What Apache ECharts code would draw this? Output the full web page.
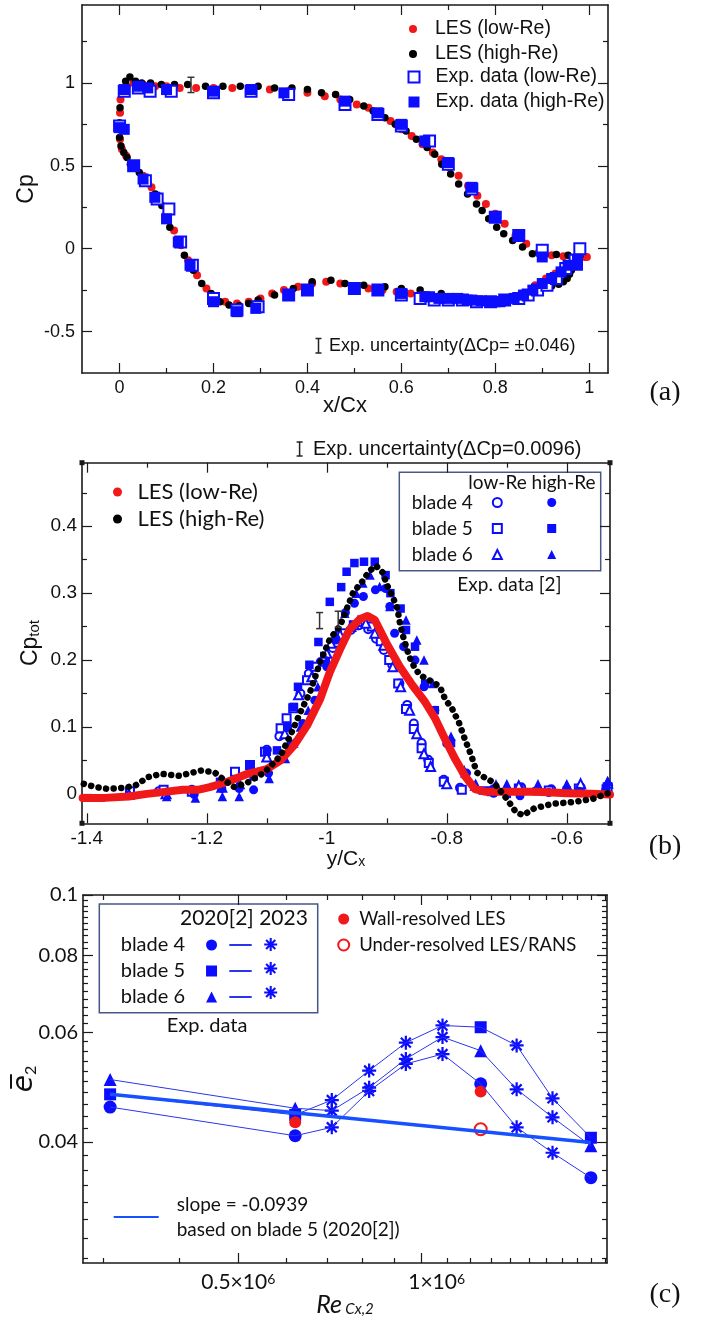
<!DOCTYPE html>
<html>
<head>
<meta charset="utf-8">
<script src="https://cdn.jsdelivr.net/npm/echarts@6/dist/echarts.min.js"></script>
<style>
  html, body { margin: 0; padding: 0; background: #fff; }
  #wrap { position: relative; width: 704px; height: 1323px; }
  .panel { position: absolute; left: 0; width: 704px; }
</style>
</head>
<body>
<div id="wrap">
  <div id="chartA" class="panel" style="top:0;height:422px"></div>
  <div id="chartB" class="panel" style="top:422px;height:456px"></div>
  <div id="chartC" class="panel" style="top:878px;height:445px"></div>
</div>
<script>
// ---------- (a) blade surface Cp, [x/Cx, Cp] ----------
const cpLesLow = [
  [0.995,-0.05],[0.97,-0.05],[0.945,-0.045],[0.92,-0.04],[0.893,-0.02],[0.866,0.03],[0.843,0.08],[0.82,0.15],
  [0.80,0.21],[0.78,0.27],[0.762,0.32],[0.742,0.38],[0.722,0.44],[0.703,0.49],[0.685,0.54],[0.667,0.58],
  [0.645,0.63],[0.622,0.68],[0.60,0.72],[0.577,0.77],[0.553,0.81],[0.53,0.85],[0.505,0.87],[0.47,0.9],
  [0.437,0.92],[0.40,0.94],[0.36,0.95],[0.32,0.96],[0.28,0.97],[0.24,0.97],[0.2,0.97],[0.163,0.97],
  [0.128,0.97],[0.1,0.98],[0.076,0.98],[0.05,0.99],[0.03,1.0],[0.015,0.98],[0.006,0.94],[0.002,0.9],
  [0.001,0.82],[0.0,0.74],
  [0.001,0.66],[0.005,0.6],[0.014,0.56],[0.03,0.5],[0.05,0.44],[0.068,0.37],[0.084,0.3],[0.1,0.21],
  [0.116,0.11],[0.131,0.02],[0.146,-0.07],[0.165,-0.16],[0.185,-0.24],[0.205,-0.29],[0.225,-0.32],[0.25,-0.33],
  [0.275,-0.32],[0.3,-0.3],[0.325,-0.27],[0.35,-0.25],[0.38,-0.23],[0.41,-0.21],[0.44,-0.2],[0.47,-0.21],
  [0.5,-0.23],[0.53,-0.24],[0.56,-0.25],[0.59,-0.26],[0.62,-0.27],[0.65,-0.28],[0.68,-0.29],[0.71,-0.3],
  [0.74,-0.31],[0.77,-0.31],[0.8,-0.31],[0.83,-0.3],[0.86,-0.27],[0.885,-0.22],[0.908,-0.18],[0.928,-0.15],
  [0.945,-0.12],[0.96,-0.09],[0.975,-0.06],[0.99,-0.05]
];
const cpLesHigh = [
  [0.98,-0.045],[0.955,-0.04],[0.93,-0.035],[0.905,-0.035],[0.879,-0.03],[0.858,0.01],[0.837,0.05],[0.818,0.09],
  [0.803,0.13],[0.786,0.18],[0.772,0.23],[0.76,0.27],[0.741,0.33],[0.722,0.39],[0.705,0.45],[0.686,0.51],
  [0.671,0.57],[0.655,0.61],[0.632,0.66],[0.61,0.71],[0.587,0.75],[0.565,0.79],[0.54,0.83],[0.52,0.86],
  [0.49,0.9],[0.46,0.93],[0.43,0.94],[0.4,0.96],[0.367,0.97],[0.33,0.97],[0.295,0.98],[0.257,0.98],
  [0.22,0.98],[0.183,0.98],[0.145,0.99],[0.117,0.99],[0.089,0.99],[0.066,1.0],[0.047,1.0],[0.034,1.01],
  [0.022,1.035],[0.013,1.01],[0.006,0.96],[0.001,0.85],[0.0,0.76],
  [0.0,0.67],[0.003,0.62],[0.009,0.58],[0.016,0.55],[0.023,0.51],[0.042,0.46],[0.06,0.4],[0.076,0.33],
  [0.09,0.26],[0.099,0.2],[0.107,0.13],[0.124,0.05],[0.138,-0.04],[0.157,-0.13],[0.175,-0.21],[0.195,-0.27],
  [0.214,-0.32],[0.233,-0.34],[0.255,-0.345],[0.275,-0.33],[0.295,-0.31],[0.33,-0.28],[0.37,-0.24],[0.41,-0.2],
  [0.45,-0.19],[0.48,-0.21],[0.52,-0.22],[0.565,-0.23],[0.6,-0.24],[0.64,-0.25],[0.685,-0.27],[0.74,-0.3],
  [0.785,-0.31],[0.83,-0.3],[0.86,-0.28],[0.88,-0.26],[0.9,-0.235],[0.92,-0.225],[0.935,-0.215],[0.945,-0.2],
  [0.953,-0.18],[0.958,-0.155],[0.962,-0.13],[0.965,-0.1],[0.967,-0.075]
];
const cpExpLow = [
  [0.01,0.95],[0.04,0.97],[0.065,0.95],[0.11,0.95],[0.2,0.94],[0.28,0.95],[0.36,0.93],[0.48,0.87],
  [0.55,0.81],[0.6,0.74],[0.66,0.65],[0.7,0.51],[0.75,0.36],[0.8,0.19],[0.85,0.08],[0.9,-0.01],[0.98,0.0],
  [0.0,0.74],[0.03,0.5],[0.055,0.41],[0.08,0.3],[0.105,0.24],[0.13,0.04],[0.155,-0.1],[0.2,-0.3],
  [0.25,-0.37],[0.295,-0.35],[0.36,-0.28],[0.4,-0.25],[0.5,-0.24],[0.55,-0.25],[0.6,-0.28],[0.64,-0.3],
  [0.67,-0.31],[0.7,-0.31],[0.73,-0.31],[0.76,-0.32],[0.79,-0.32],[0.82,-0.31],[0.85,-0.3],[0.87,-0.28],
  [0.89,-0.25],[0.91,-0.22],[0.93,-0.18],[0.95,-0.12],[0.97,-0.07]
];
const cpExpHigh = [
  [0.01,0.96],[0.04,0.98],[0.06,0.97],[0.1,0.96],[0.2,0.95],[0.28,0.96],[0.35,0.94],[0.48,0.89],
  [0.55,0.82],[0.6,0.75],[0.65,0.65],[0.7,0.52],[0.75,0.37],[0.8,0.19],[0.85,0.08],[0.9,-0.05],[0.975,-0.07],
  [0.0,0.73],[0.01,0.72],[0.03,0.5],[0.05,0.42],[0.075,0.31],[0.1,0.18],[0.125,0.04],[0.15,-0.1],
  [0.2,-0.32],[0.25,-0.38],[0.29,-0.36],[0.36,-0.28],[0.4,-0.25],[0.5,-0.24],[0.55,-0.25],[0.6,-0.27],
  [0.65,-0.29],[0.66,-0.29],[0.68,-0.3],[0.7,-0.3],[0.72,-0.3],[0.74,-0.31],[0.75,-0.31],[0.77,-0.315],
  [0.79,-0.32],[0.8,-0.32],[0.81,-0.32],[0.82,-0.31],[0.84,-0.3],[0.86,-0.28],[0.88,-0.25],[0.9,-0.21],
  [0.92,-0.18],[0.94,-0.14],[0.955,-0.1],[0.975,-0.1]
];
const cpErrBar = [[0.152, 0.988, 0.046]];
const aMajorX = [0, 0.2, 0.4, 0.6, 0.8, 1];
const aMinorX = [0.1, 0.3, 0.5, 0.7, 0.9];
const aMajorY = [-0.5, 0, 0.5, 1];
const aMinorY = [-0.25, 0.25, 0.75, 1.25];

// ---------- (b) wake total pressure loss, [y/Cx, Cp_tot] ----------
const wakeLesLow = [
  [-1.407,-0.006],[-1.37,-0.006],[-1.33,-0.004],[-1.3,0.0],[-1.27,0.003],[-1.24,0.006],[-1.215,0.006],
  [-1.195,0.01],[-1.18,0.014],[-1.16,0.02],[-1.132,0.03],[-1.1,0.037],[-1.077,0.05],[-1.055,0.072],
  [-1.033,0.102],[-1.011,0.142],[-0.995,0.182],[-0.978,0.216],[-0.962,0.246],[-0.945,0.261],[-0.932,0.266],
  [-0.92,0.26],[-0.901,0.226],[-0.879,0.191],[-0.857,0.162],[-0.836,0.137],[-0.819,0.112],[-0.803,0.082],
  [-0.786,0.052],[-0.77,0.027],[-0.753,0.007],[-0.735,0.003],[-0.7,0.003],[-0.65,0.003],[-0.6,0.001],
  [-0.56,0.0],[-0.528,-0.001]
];
const wakeLesHigh = [
  [-1.405,0.015],[-1.385,0.01],[-1.365,0.0075],[-1.34,0.009],[-1.32,0.012],[-1.298,0.025],[-1.276,0.03],
  [-1.246,0.027],[-1.209,0.035],[-1.187,0.032],[-1.17,0.02],[-1.154,0.01],[-1.132,0.017],[-1.104,0.032],
  [-1.077,0.057],[-1.061,0.087],[-1.044,0.122],[-1.028,0.152],[-1.011,0.197],[-0.995,0.231],[-0.978,0.251],
  [-0.967,0.276],[-0.956,0.301],[-0.942,0.316],[-0.929,0.333],[-0.918,0.341],[-0.907,0.331],[-0.899,0.311],
  [-0.89,0.294],[-0.882,0.276],[-0.879,0.259],[-0.874,0.239],[-0.868,0.221],[-0.863,0.206],[-0.855,0.191],
  [-0.846,0.179],[-0.835,0.172],[-0.822,0.167],[-0.811,0.159],[-0.803,0.142],[-0.791,0.127],[-0.78,0.107],
  [-0.77,0.082],[-0.759,0.057],[-0.75,0.032],[-0.738,0.025],[-0.722,0.017],[-0.7,-0.0075],[-0.685,-0.027],
  [-0.673,-0.032],[-0.655,-0.022],[-0.625,-0.015],[-0.587,-0.012],[-0.557,-0.0075],[-0.528,0.002]
];
const blade4Low = [
  [-1.28,0.004],[-1.225,0.006],[-1.152,0.026],[-1.1,0.066],[-1.079,0.086],[-1.066,0.1],[-1.044,0.15],
  [-1.03,0.18],[-1.01,0.197],[-0.99,0.218],[-0.976,0.232],[-0.96,0.245],[-0.946,0.252],[-0.931,0.246],
  [-0.918,0.232],[-0.905,0.215],[-0.891,0.193],[-0.879,0.165],[-0.866,0.133],[-0.855,0.105],[-0.842,0.076],
  [-0.831,0.051],[-0.805,0.021],[-0.778,0.009],[-0.722,0.007],[-0.676,0.01],[-0.626,0.007],[-0.577,0.01],
  [-0.531,0.012]
];
const blade5Low = [
  [-1.328,0.004],[-1.272,0.006],[-1.225,0.003],[-1.153,0.033],[-1.128,0.043],[-1.103,0.063],[-1.077,0.098],
  [-1.067,0.113],[-1.056,0.128],[-1.033,0.17],[-1.02,0.19],[-1.003,0.205],[-0.985,0.226],[-0.97,0.24],
  [-0.955,0.252],[-0.94,0.257],[-0.925,0.25],[-0.91,0.228],[-0.896,0.2],[-0.881,0.165],[-0.868,0.127],
  [-0.855,0.097],[-0.842,0.068],[-0.83,0.046],[-0.805,0.018],[-0.775,0.006],[-0.725,0.004],[-0.68,0.008],
  [-0.63,0.005],[-0.58,0.008],[-0.532,0.01]
];
const blade6Low = [
  [-1.33,-0.001],[-1.268,0.0],[-1.175,0.01],[-1.146,0.015],[-1.1,0.055],[-1.07,0.09],[-1.047,0.148],
  [-1.025,0.175],[-1.0,0.21],[-0.993,0.225],[-0.978,0.238],[-0.96,0.25],[-0.948,0.258],[-0.935,0.255],
  [-0.92,0.24],[-0.905,0.222],[-0.89,0.19],[-0.877,0.16],[-0.862,0.125],[-0.85,0.09],[-0.838,0.06],
  [-0.827,0.041],[-0.8,0.015],[-0.752,0.013],[-0.718,0.012],[-0.68,0.012],[-0.648,0.012],[-0.6,0.012],
  [-0.577,0.015],[-0.532,0.016]
];
const blade4High = [
  [-1.221,-0.001],[-1.175,0.008],[-1.146,0.008],[-1.122,0.006],[-1.097,0.031],[-1.06,0.075],[-1.04,0.105],
  [-1.02,0.14],[-1.0,0.19],[-0.985,0.23],[-0.969,0.271],[-0.954,0.285],[-0.939,0.295],[-0.919,0.305],
  [-0.902,0.307],[-0.895,0.28],[-0.887,0.24],[-0.872,0.22],[-0.853,0.2],[-0.838,0.16],[-0.82,0.125],
  [-0.8,0.075],[-0.767,0.031],[-0.722,0.001],[-0.678,-0.003],[-0.63,0.002],[-0.58,0.004],[-0.535,0.006]
];
const blade5High = [
  [-1.178,0.018],[-1.128,0.043],[-1.122,0.026],[-1.1,0.063],[-1.083,0.065],[-1.066,0.1],[-1.055,0.13],
  [-1.048,0.16],[-1.029,0.193],[-1.014,0.227],[-0.995,0.287],[-0.976,0.309],[-0.967,0.332],[-0.954,0.345],
  [-0.938,0.347],[-0.92,0.347],[-0.902,0.327],[-0.894,0.3],[-0.877,0.277],[-0.868,0.245],[-0.853,0.22],
  [-0.836,0.165],[-0.82,0.125],[-0.793,0.076],[-0.77,0.03],[-0.74,0.005],[-0.7,0.0],[-0.65,0.004],
  [-0.6,0.005],[-0.535,0.008]
];
const blade6High = [
  [-1.328,-0.002],[-1.267,-0.004],[-1.219,-0.006],[-1.174,-0.004],[-1.146,-0.004],[-1.096,0.023],
  [-1.069,0.053],[-1.055,0.076],[-1.044,0.1],[-1.031,0.125],[-1.015,0.16],[-1.0,0.2],[-0.985,0.24],
  [-0.97,0.27],[-0.951,0.3],[-0.94,0.315],[-0.928,0.327],[-0.912,0.31],[-0.895,0.28],[-0.868,0.26],
  [-0.85,0.23],[-0.838,0.2],[-0.823,0.165],[-0.793,0.086],[-0.771,0.036],[-0.752,0.013],[-0.7,0.015],
  [-0.648,0.012],[-0.6,0.014],[-0.532,0.02]
];
const wakeErrBars = [[-1.012, 0.259, 0.012], [-0.981, 0.261, 0.012]];
const bMajorX = [-1.4, -1.2, -1, -0.8, -0.6];
const bMinorX = [-1.3, -1.1, -0.9, -0.7];
const bMajorY = [0, 0.1, 0.2, 0.3, 0.4];
const bMinorY = [0.05, 0.15, 0.25, 0.35, 0.45];

// ---------- (c) e2 vs Re, [Re_Cx,2, e2] ----------
const blade4Old = [[0.308e6,0.0455],[0.62e6,0.0409],[1.25e6,0.0496],[1.896e6,0.035]];
const blade5Old = [[0.308e6,0.0477],[0.62e6,0.0442],[1.25e6,0.0612],[1.896e6,0.0406]];
const blade6Old = [[0.308e6,0.0504],[0.62e6,0.0453],[1.25e6,0.0561],[1.896e6,0.0394]];
const blade4New = [[0.712e6,0.0422],[0.82e6,0.0483],[0.942e6,0.0534],[1.082e6,0.0554],[1.432e6,0.0422],[1.64e6,0.0384]];
const blade5New = [[0.712e6,0.0467],[0.82e6,0.0521],[0.942e6,0.0578],[1.082e6,0.0616],[1.432e6,0.0572],[1.64e6,0.047]];
const blade6New = [[0.712e6,0.0449],[0.82e6,0.0489],[0.942e6,0.0544],[1.082e6,0.059],[1.432e6,0.0486],[1.64e6,0.0438]];
const wallLes = [[0.62e6,0.043],[1.25e6,0.0482]];
const underLes = [[1.25e6,0.0419]];
const slopeFit = [[0.308e6,0.0477],[1.896e6,0.0399]];
const cMajorX = [5e5, 1e6];
const cMinorX = [3e5,4e5,6e5,7e5,8e5,9e5,1.1e6,1.2e6,1.3e6,1.4e6,1.5e6,1.6e6,1.7e6,1.8e6,1.9e6,2e6];
const cMajorY = [0.04, 0.06, 0.08, 0.1];
const cMinorY = [0.026,0.028,0.03,0.032,0.034,0.036,0.038,0.042,0.044,0.046,0.048,0.05,0.052,0.054,0.056,0.058,
  0.062,0.064,0.066,0.068,0.07,0.072,0.074,0.076,0.078,0.082,0.084,0.086,0.088,0.09,0.092,0.094,0.096,0.098];

const SANS = '"Liberation Sans", Arial, sans-serif';
const LATO = 'Lato, sans-serif';
const SERIF = '"Liberation Serif", "Times New Roman", serif';
const INK = '#1a1a1a';
const BLUE = '#0c0cff';
const RED = '#f01818';
const STAR = 'path://M-1,-0.16L1,-0.16L1,0.16L-1,0.16Z M-0.16,-1L0.16,-1L0.16,1L-0.16,1Z ' +
  'M0.820,0.594L0.594,0.820L-0.820,-0.594L-0.594,-0.820Z M0.594,-0.820L0.820,-0.594L-0.594,0.820L-0.820,0.594Z';

// four axes per dimension: labelled major, minor, mirrored major, mirrored minor
function axisSet(sides, range, major, minor, label, extra) {
  function mk(pos, ticks, len, line) {
    return {
      type: range.type || 'value',
      logBase: 10,
      min: range.min,
      max: range.max,
      position: pos,
      splitLine: { show: false },
      axisLine: { show: line, onZero: false, lineStyle: { color: INK, width: 1.6 } },
      axisTick: { show: true, inside: true, length: len, customValues: ticks, lineStyle: { color: INK, width: 1.2 } },
      axisLabel: { show: false }
    };
  }
  const main = Object.assign(mk(sides[0], major, 10, true), extra, { axisLabel: label });
  return [main, mk(sides[0], minor, 5, false), mk(sides[1], major, 10, true), mk(sides[1], minor, 5, false)];
}

function errBar(color) {
  return function (params, api) {
    const x = api.value(0), y = api.value(1), e = api.value(2);
    const hi = api.coord([x, y + e]);
    const lo = api.coord([x, y - e]);
    const st = { stroke: color, lineWidth: 1.5 };
    return {
      type: 'group',
      children: [
        { type: 'line', shape: { x1: hi[0], y1: hi[1], x2: lo[0], y2: lo[1] }, style: st },
        { type: 'line', shape: { x1: hi[0] - 3.5, y1: hi[1], x2: hi[0] + 3.5, y2: hi[1] }, style: st },
        { type: 'line', shape: { x1: lo[0] - 3.5, y1: lo[1], x2: lo[0] + 3.5, y2: lo[1] }, style: st }
      ]
    };
  };
}

function iBar(x, y1, y2) {
  const st = { stroke: '#222', lineWidth: 1.5 };
  return {
    type: 'group', silent: true,
    children: [
      { type: 'line', shape: { x1: x, y1: y1, x2: x, y2: y2 }, style: st },
      { type: 'line', shape: { x1: x - 3, y1: y1, x2: x + 3, y2: y1 }, style: st },
      { type: 'line', shape: { x1: x - 3, y1: y2, x2: x + 3, y2: y2 }, style: st }
    ]
  };
}

function txt(text, x, y, size, family, align) {
  return {
    type: 'text', x: x, y: y, silent: true,
    style: { text: text, fill: '#111', fontSize: size, fontFamily: family,
      align: align || 'left', verticalAlign: 'middle' }
  };
}

function legendText(size, pad) {
  return { fontSize: size, fontFamily: LATO, color: '#111', padding: pad || 0 };
}

// scatter defaults to 0.8 opacity; the reference marks are solid
function solid(color, extra) {
  return Object.assign({ color: color, opacity: 1 }, extra || {});
}

const fmt = v => String(v);

// ================= panel (a) =================
const chartA = echarts.init(document.getElementById('chartA'));
chartA.setOption({
  animation: false,
  grid: { left: 82, top: 5, width: 526, height: 368, outerBoundsMode: 'none' },
  xAxis: axisSet(['bottom', 'top'], { min: -0.08, max: 1.04 }, aMajorX, aMinorX,
    { customValues: aMajorX, formatter: fmt, margin: 6, fontSize: 18, fontFamily: SANS, color: '#111' },
    { name: 'x/Cx', nameLocation: 'middle', nameGap: 22, nameMoveOverlap: false,
      nameTextStyle: { fontSize: 22, fontFamily: SANS, color: '#111' } }),
  yAxis: axisSet(['left', 'right'], { min: -0.75, max: 1.47 }, aMajorY, aMinorY,
    { customValues: aMajorY, formatter: fmt, margin: 7, fontSize: 18, fontFamily: SANS, color: '#111' },
    { name: 'Cp', nameLocation: 'middle', nameGap: 44, nameMoveOverlap: false,
      nameTextStyle: { fontSize: 23, fontFamily: SANS, color: '#111' } }),
  legend: [
    { orient: 'vertical', left: 409, top: 19, padding: 0, itemWidth: 8, itemHeight: 8, itemGap: 5,
      selectedMode: false, data: ['LES (low-Re)', 'LES (high-Re)'],
      textStyle: { fontSize: 19.5, fontFamily: SANS, color: '#111', padding: [0, 0, 0, 13] } },
    { orient: 'vertical', left: 407.5, top: 67, padding: 0, itemWidth: 11, itemHeight: 11, itemGap: 5,
      selectedMode: false, data: ['Exp. data (low-Re)', 'Exp. data (high-Re)'],
      textStyle: { fontSize: 19.5, fontFamily: SANS, color: '#111', padding: [0, 0, 0, 11] } }
  ],
  graphic: [
    iBar(318.5, 338.5, 353),
    txt('Exp. uncertainty(\u0394Cp= \u00b10.046)', 329, 346, 18, SANS),
    txt('(a)', 665, 393, 28, SERIF, 'center')
  ],
  series: [
    { name: 'LES (low-Re)', type: 'scatter', data: cpLesLow, symbol: 'circle', symbolSize: 8,
      itemStyle: solid(RED) },
    { name: 'LES (high-Re)', type: 'scatter', data: cpLesHigh, symbol: 'circle', symbolSize: 7.5,
      itemStyle: solid('#000') },
    { name: 'Exp. data (low-Re)', type: 'scatter', data: cpExpLow, symbol: 'emptyRect', symbolSize: 11,
      itemStyle: solid(BLUE, { borderColor: BLUE, borderWidth: 1.5 }) },
    { name: 'Exp. data (high-Re)', type: 'scatter', data: cpExpHigh, symbol: 'rect', symbolSize: 11,
      itemStyle: solid(BLUE) },
    { type: 'custom', data: cpErrBar, renderItem: errBar('#333'), encode: { x: 0, y: 1 }, silent: true, z: 5 }
  ]
});

// ================= panel (b) =================
const chartB = echarts.init(document.getElementById('chartB'));
const hollow = solid(BLUE, { borderColor: BLUE, borderWidth: 1.5 });
chartB.setOption({
  animation: false,
  grid: { left: 82, top: 40.7, width: 528, height: 360.6, outerBoundsMode: 'none' },
  xAxis: axisSet(['bottom', 'top'], { min: -1.408, max: -0.528 }, bMajorX, bMinorX,
    { customValues: bMajorX, formatter: fmt, margin: 6, fontSize: 19, fontFamily: SANS, color: '#111' },
    { name: '{c|y/C}{s|x}', nameLocation: 'middle', nameGap: 25, nameMoveOverlap: false,
      nameTextStyle: { rich: {
        c: { fontSize: 21, fontFamily: SANS, color: '#111' },
        s: { fontSize: 14, fontFamily: SANS, color: '#111', verticalAlign: 'bottom' } } } }),
  yAxis: axisSet(['left', 'right'], { min: -0.044, max: 0.495 }, bMajorY, bMinorY,
    { customValues: bMajorY, formatter: fmt, margin: 5, fontSize: 19, fontFamily: SANS, color: '#111' },
    { name: '{c|Cp}{s|tot}', nameLocation: 'middle', nameGap: 40, nameMoveOverlap: false,
      nameTextStyle: { rich: {
        c: { fontSize: 23, fontFamily: SANS, color: '#111' },
        s: { fontSize: 15, fontFamily: SANS, color: '#111', verticalAlign: 'bottom' } } } }),
  legend: [
    { orient: 'vertical', left: 113, top: 59, padding: 0, itemWidth: 30, itemHeight: 9, itemGap: 5,
      selectedMode: false,
      data: [{ name: 'LES (low-Re)', icon: 'circle' }, { name: 'LES (high-Re)', icon: 'circle' }],
      textStyle: legendText(22) },
    { orient: 'vertical', align: 'right', left: 411.7, top: 71, padding: 0, itemWidth: 9, itemHeight: 9,
      itemGap: 7, selectedMode: false, data: ['blade 4', 'blade 5', 'blade 6'],
      textStyle: legendText(19, [0, 15, 0, 0]) },
    { orient: 'vertical', left: 547.2, top: 71, padding: 0, itemWidth: 9, itemHeight: 9, itemGap: 7,
      selectedMode: false, data: ['blade 4 (high-Re)', 'blade 5 (high-Re)', 'blade 6 (high-Re)'],
      formatter: () => ' ', textStyle: legendText(19) }
  ],
  graphic: [
    iBar(299.6, 20, 34),
    txt('Exp. uncertainty(\u0394Cp=0.0096)', 313, 27.3, 20, SANS),
    { type: 'rect', silent: true, shape: { x: 399.3, y: 50.3, width: 201.4, height: 98.4 },
      style: { fill: 'none', stroke: '#4a5888', lineWidth: 1.5 } },
    txt('low-Re high-Re', 468.3, 61.3, 19, LATO),
    txt('Exp. data [2]', 457.3, 163, 19, LATO),
    txt('(b)', 665, 424.7, 28, SERIF, 'center'),
    { type: 'rect', silent: true, shape: { x: 79.5, y: 38.2, width: 5, height: 5 }, style: { fill: INK } },
    { type: 'rect', silent: true, shape: { x: 607.5, y: 38.2, width: 5, height: 5 }, style: { fill: INK } },
    { type: 'rect', silent: true, shape: { x: 79.5, y: 398.8, width: 5, height: 5 }, style: { fill: INK } },
    { type: 'rect', silent: true, shape: { x: 607.5, y: 398.8, width: 5, height: 5 }, style: { fill: INK } }
  ],
  series: [
    { name: 'LES (low-Re)', type: 'line', data: wakeLesLow, color: RED, symbol: 'none',
      lineStyle: { color: RED, width: 8, cap: 'round', join: 'round' } },
    { name: 'LES (high-Re)', type: 'line', data: wakeLesHigh, color: '#000', symbol: 'none',
      lineStyle: { color: '#000', width: 6.5, type: [0.1, 7.5], cap: 'round' } },
    { name: 'blade 4', type: 'scatter', data: blade4Low, symbol: 'emptyCircle', symbolSize: 8, itemStyle: hollow },
    { name: 'blade 5', type: 'scatter', data: blade5Low, symbol: 'emptyRect', symbolSize: 8, itemStyle: hollow },
    { name: 'blade 6', type: 'scatter', data: blade6Low, symbol: 'emptyTriangle', symbolSize: 9, itemStyle: hollow },
    { name: 'blade 4 (high-Re)', type: 'scatter', data: blade4High, symbol: 'circle', symbolSize: 9, itemStyle: solid(BLUE) },
    { name: 'blade 5 (high-Re)', type: 'scatter', data: blade5High, symbol: 'rect', symbolSize: 8.5, itemStyle: solid(BLUE) },
    { name: 'blade 6 (high-Re)', type: 'scatter', data: blade6High, symbol: 'triangle', symbolSize: 9.5, itemStyle: solid(BLUE) },
    { type: 'custom', data: wakeErrBars, renderItem: errBar('#333'), encode: { x: 0, y: 1 }, silent: true, z: 5 }
  ]
});

// ================= panel (c) =================
const chartC = echarts.init(document.getElementById('chartC'));
const byRe = (p, q) => p[0] - q[0];
const thin = { color: '#2a35ea', width: 1 };
chartC.setOption({
  animation: false,
  grid: { left: 83, top: 17, width: 524, height: 368, outerBoundsMode: 'none' },
  xAxis: axisSet(['bottom', 'top'], { type: 'log', min: 0.278e6, max: 2.015e6 }, cMajorX, cMinorX,
    { customValues: cMajorX, margin: 9,
      formatter: v => (v === 1e6 ? '{g|}' : '') + '{m|' + (v / 1e6) + '\u00d710}{p|6}',
      rich: { m: { fontSize: 21, fontFamily: LATO, color: '#111' },
              p: { fontSize: 14, fontFamily: LATO, color: '#111', verticalAlign: 'top' },
              g: { width: 30 } } },
    { name: '{r|Re} {s|Cx,2}', nameLocation: 'middle', nameGap: 29, nameMoveOverlap: false,
      nameTextStyle: { rich: {
        r: { fontSize: 25, fontFamily: LATO, fontStyle: 'italic', color: '#111' },
        s: { fontSize: 15, fontFamily: LATO, fontStyle: 'italic', color: '#111', verticalAlign: 'bottom' } } } }),
  yAxis: axisSet(['left', 'right'], { type: 'log', min: 0.0255, max: 0.1 }, cMajorY, cMinorY,
    { customValues: cMajorY, formatter: fmt, margin: 5, fontSize: 20, fontFamily: LATO, color: '#111' },
    { name: '{e|e\u0305}{s|2}', nameLocation: 'middle', nameGap: 44, nameMoveOverlap: false,
      nameTextStyle: { rich: {
        e: { fontSize: 28, fontFamily: '"DejaVu Sans"', fontStyle: 'italic', color: '#111' },
        s: { fontSize: 16, fontFamily: LATO, color: '#111', verticalAlign: 'bottom' } } } }),
  legend: [
    { orient: 'vertical', align: 'right', left: 120.7, top: 57, padding: 0, itemWidth: 11, itemHeight: 11,
      itemGap: 6, selectedMode: false, data: ['blade 4', 'blade 5', 'blade 6'],
      textStyle: legendText(20, [0, 16, 0, 0]) },
    { orient: 'vertical', left: 228.3, top: 57, padding: 0, itemWidth: 22.4, itemHeight: 11, itemGap: 6,
      selectedMode: false, data: ['blade 4 line', 'blade 5 line', 'blade 6 line'], formatter: () => ' ',
      itemStyle: { opacity: 0 }, textStyle: legendText(20) },
    { orient: 'vertical', left: 264.2, top: 56.5, padding: 0, itemWidth: 13, itemHeight: 13, itemGap: 4,
      selectedMode: false, data: ['blade 4 (2023)', 'blade 5 (2023)', 'blade 6 (2023)'], formatter: () => ' ',
      textStyle: legendText(20) },
    { orient: 'vertical', left: 337.2, top: 31.5, padding: 0, itemWidth: 21, itemHeight: 11, itemGap: 7,
      selectedMode: false, data: ['Wall-resolved LES', 'Under-resolved LES/RANS'],
      textStyle: legendText(18.5) },
    { orient: 'vertical', left: 112.7, top: 314, padding: 0, itemWidth: 45, itemHeight: 6, selectedMode: false,
      data: ['slope = -0.0939'], formatter: n => n + '\nbased on blade 5 (2020[2])',
      itemStyle: { opacity: 0 },
      textStyle: { fontSize: 19, lineHeight: 25, fontFamily: LATO, color: '#111', padding: [0, 0, 0, 13] } }
  ],
  graphic: [
    { type: 'rect', silent: true, shape: { x: 99.3, y: 26, width: 218.4, height: 108.7 },
      style: { fill: 'none', stroke: '#46568a', lineWidth: 1.5 } },
    txt('2020[2] 2023', 180, 40.3, 21, LATO),
    txt('Exp. data', 207, 147.7, 20, LATO, 'center'),
    txt('(c)', 665, 417, 28, SERIF, 'center')
  ],
  series: [
    { name: 'blade 4 line', type: 'line', data: blade4Old.concat(blade4New).sort(byRe), symbol: 'none', color: thin.color, lineStyle: thin },
    { name: 'blade 5 line', type: 'line', data: blade5Old.concat(blade5New).sort(byRe), symbol: 'none', color: thin.color, lineStyle: thin },
    { name: 'blade 6 line', type: 'line', data: blade6Old.concat(blade6New).sort(byRe), symbol: 'none', color: thin.color, lineStyle: thin },
    { name: 'slope = -0.0939', type: 'line', data: slopeFit, symbol: 'none', color: '#1650ff',
      lineStyle: { color: '#1650ff', width: 3.5 } },
    { name: 'blade 4', type: 'scatter', data: blade4Old, symbol: 'circle', symbolSize: 13, itemStyle: solid(BLUE) },
    { name: 'blade 5', type: 'scatter', data: blade5Old, symbol: 'rect', symbolSize: 12, itemStyle: solid(BLUE) },
    { name: 'blade 6', type: 'scatter', data: blade6Old, symbol: 'triangle', symbolSize: 13, itemStyle: solid(BLUE) },
    { name: 'blade 4 (2023)', type: 'scatter', data: blade4New, symbol: STAR, symbolSize: 14, itemStyle: solid(BLUE) },
    { name: 'blade 5 (2023)', type: 'scatter', data: blade5New, symbol: STAR, symbolSize: 14, itemStyle: solid(BLUE) },
    { name: 'blade 6 (2023)', type: 'scatter', data: blade6New, symbol: STAR, symbolSize: 14, itemStyle: solid(BLUE) },
    { name: 'Wall-resolved LES', type: 'scatter', data: wallLes, symbol: 'circle', symbolSize: 12, itemStyle: solid(RED) },
    { name: 'Under-resolved LES/RANS', type: 'scatter', data: underLes, symbol: 'emptyCircle', symbolSize: 12,
      itemStyle: solid(RED, { borderColor: RED, borderWidth: 1.3 }) }
  ]
});
</script>
</body>
</html>
